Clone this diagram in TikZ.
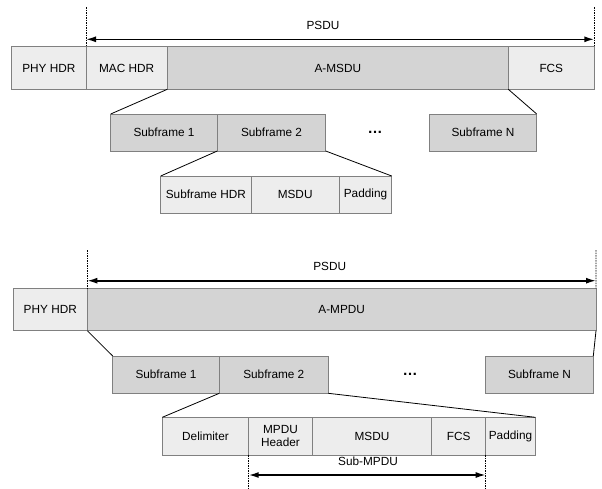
\documentclass[tikz,border=0pt]{standalone}
\usepackage{fontspec}
\setmainfont{Liberation Sans}
\usetikzlibrary{arrows.meta}
\definecolor{lightfield}{HTML}{EDEDED}
\definecolor{darkfield}{HTML}{D4D4D4}
\definecolor{edgegray}{HTML}{808080}
\begin{document}
\begin{tikzpicture}[x=1pt,y=-1pt,
    field/.style={draw=edgegray,line width=0.9pt,inner sep=0pt,outer sep=0pt,font=\fontsize{11.8}{13}\selectfont},
    light field/.style={field,fill=lightfield},
    dark field/.style={field,fill=darkfield},
    span/.style={{Latex[length=10pt,width=6pt]}-{Latex[length=10pt,width=6pt]},line width=1.6pt},
    marker/.style={densely dashed,dash pattern=on 1.5pt off 1pt,line width=0.6pt},
    zoom line/.style={line width=0.8pt}]

\useasboundingbox (0,0) rectangle (602,488);

% A-MSDU
\node at (323,25) [font=\fontsize{11.8}{13}\selectfont] (psduA) {PSDU};
\node at (48.85,68) [light field,minimum width=74.3,minimum height=42.6] (phyA) {PHY HDR};
\node at (126.65,68) [light field,minimum width=81.3,minimum height=42.6] (macA) {MAC HDR};
\node at (337.8,68) [dark field,minimum width=341,minimum height=42.6] (amsdu) {A-MSDU};
\node at (551.3,68) [light field,minimum width=86,minimum height=42.6] (fcsA) {FCS};

\node at (164,132.5) [dark field,minimum width=106.6,minimum height=37] (sfA1) {Subframe 1};
\node at (271.5,132.5) [dark field,minimum width=108.4,minimum height=37] (sfA2) {Subframe 2};
\node at (375,132) [font=\fontsize{15}{16}\selectfont\bfseries] (dotsA) {\dots};
\node at (483,132.5) [dark field,minimum width=107.4,minimum height=37] (sfAN) {Subframe N};

\node at (205.85,194.65) [light field,minimum width=90.3,minimum height=37.3] (hdrA) {Subframe HDR};
\node at (295.15,194.65) [light field,minimum width=88.3,minimum height=37.3] (msduA) {MSDU};
\node at (365.5,194.65) [light field,minimum width=52.4,minimum height=37.3] (padA) {Padding};

\coordinate (topAl) at (86,7);
\coordinate (topAr) at (594.3,7);
\coordinate (arrAl) at (86,39.3);
\coordinate (arrAr) at (594.3,39.3);
\draw[marker] (topAl) -- (macA.north west);
\draw[marker] (topAr) -- (fcsA.north east);
\draw[span] (arrAl) -- (arrAr);

\draw[zoom line] (amsdu.south west) -- (sfA1.north west)
      (amsdu.south east) -- (sfAN.north east)
      (sfA2.south west) -- (hdrA.north west)
      (sfA2.south east) -- (padA.north east);

% A-MPDU
\node at (329.7,266) [font=\fontsize{11.8}{13}\selectfont] (psduB) {PSDU};
\node at (50.3,309.5) [light field,minimum width=74,minimum height=42.4] (phyB) {PHY HDR};
\node at (341.65,309.5) [dark field,minimum width=508.7,minimum height=42.4] (ampdu) {A-MPDU};

\node at (166,374.65) [dark field,minimum width=106.6,minimum height=37.3] (sfB1) {Subframe 1};
\node at (273.8,374.65) [dark field,minimum width=109,minimum height=37.3] (sfB2) {Subframe 2};
\node at (410,374) [font=\fontsize{15}{16}\selectfont\bfseries] (dotsB) {\dots};
\node at (539.5,374.65) [dark field,minimum width=107.6,minimum height=37.3] (sfBN) {Subframe N};

\node at (205.5,436.15) [light field,minimum width=86.4,minimum height=37.7] (delimB) {Delimiter};
\node at (280.5,436.15) [light field,minimum width=63.6,minimum height=37.7,align=center] (hdrB) {MPDU\\Header};
\node at (372,436.15) [light field,minimum width=119.4,minimum height=37.7] (msduB) {MSDU};
\node at (458.7,436.15) [light field,minimum width=54,minimum height=37.7] (fcsB) {FCS};
\node at (510.5,436.15) [light field,minimum width=49.6,minimum height=37.7] (padB) {Padding};

\coordinate (topBl) at (87.3,250);
\coordinate (topBr) at (596,250);
\coordinate (arrBl) at (87.3,280.7);
\coordinate (arrBr) at (596,280.7);
\draw[marker] (topBl) -- (ampdu.north west);
\draw[marker] (topBr) -- (ampdu.north east);
\draw[span] (arrBl) -- (arrBr);

\draw[zoom line] (ampdu.south west) -- (sfB1.north west)
      (ampdu.south east) -- (sfBN.north east)
      (sfB2.south west) -- (delimB.north west)
      (sfB2.south east) -- (padB.north east);

\coordinate (lowBl) at (248.7,488);
\coordinate (lowBr) at (485.7,488);
\coordinate (arrCl) at (248.7,475);
\coordinate (arrCr) at (485.7,475);
\node at (368,461) [font=\fontsize{11.8}{13}\selectfont] (submpdu) {Sub-MPDU};
\draw[marker] (hdrB.south west) -- (lowBl);
\draw[marker] (fcsB.south east) -- (lowBr);
\draw[span] (arrCl) -- (arrCr);
\end{tikzpicture}
\end{document}
